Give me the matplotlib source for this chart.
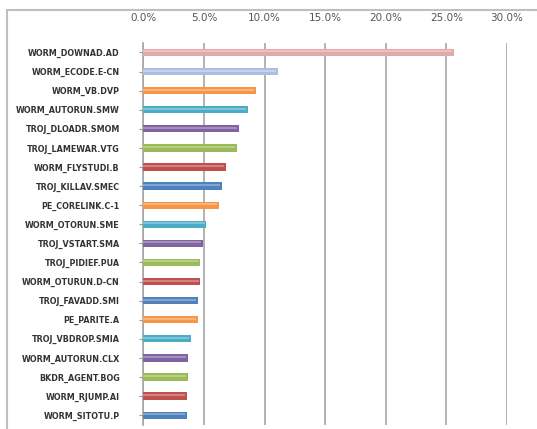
import numpy as np
import matplotlib.pyplot as plt
from matplotlib.patches import Rectangle
from matplotlib.ticker import PercentFormatter

labels = ['WORM_DOWNAD.AD', 'WORM_ECODE.E-CN', 'WORM_VB.DVP', 'WORM_AUTORUN.SMW',
          'TROJ_DLOADR.SMOM', 'TROJ_LAMEWAR.VTG', 'WORM_FLYSTUDI.B', 'TROJ_KILLAV.SMEC',
          'PE_CORELINK.C-1', 'WORM_OTORUN.SME', 'TROJ_VSTART.SMA', 'TROJ_PIDIEF.PUA',
          'WORM_OTURUN.D-CN', 'TROJ_FAVADD.SMI', 'PE_PARITE.A', 'TROJ_VBDROP.SMIA',
          'WORM_AUTORUN.CLX', 'BKDR_AGENT.BOG', 'WORM_RJUMP.AI', 'WORM_SITOTU.P']
shares = [25.6, 11.1, 9.3, 8.6, 7.9, 7.7, 6.8, 6.5, 6.2, 5.2,
          4.9, 4.7, 4.7, 4.5, 4.5, 3.9, 3.7, 3.7, 3.6, 3.6]
# orange, teal, purple, green, red, blue (repeats from the third bar)
palette = ['#F79646', '#4BACC6', '#8064A2', '#9BBB59', '#C0504D', '#4F81BD']
# first two bars are drawn in a paler tint in the original
first_colors = ['#E3A9A8', '#A9C0E2']

colors = []
for i in range(len(labels)):
    if i < 2:
        colors.append(first_colors[i])
    else:
        colors.append(palette[(i - 2) % 6])

fig = plt.figure(figsize=(5.37, 4.29), dpi=100)
ax = fig.add_axes([0.267, 0.010, 0.677, 0.890])

y = np.arange(len(labels))
ax.barh(y, shares, height=0.38, color=colors, edgecolor='none', zorder=3)
# light streak along each bar for the cylinder look
ax.hlines(y - 0.05, 0, np.array(shares) - 0.15, colors='white', alpha=0.35,
          linewidth=1.2, zorder=4)

ax.set_xlim(0, 30)
ax.set_ylim(len(labels) - 0.5, -0.5)
ax.set_xticks(np.arange(0, 31, 5))
ax.xaxis.set_major_formatter(PercentFormatter(decimals=1))
ax.xaxis.tick_top()
ax.tick_params(axis='x', length=0, pad=14, labelsize=7.5, labelcolor='#555555')
ax.tick_params(axis='y', length=3, color='#999999', pad=14, labelsize=5.8,
               labelcolor='#333333')
ax.set_yticks(y)
ax.set_yticklabels(labels, fontweight='bold')
ax.grid(axis='x', color='#A6A6A6', linewidth=1.2, zorder=0)
for side in ['top', 'right', 'bottom']:
    ax.spines[side].set_visible(False)
ax.spines['left'].set_color('#A6A6A6')
ax.spines['left'].set_linewidth(1.2)

# chart area border
fig.patches.append(Rectangle((7 / 537, -0.05), 1.1, 1 - 10 / 429 + 0.05,
                             transform=fig.transFigure, fill=False,
                             edgecolor='#BFBFBF', linewidth=1.5))

fig.savefig('out.png', dpi=100)
